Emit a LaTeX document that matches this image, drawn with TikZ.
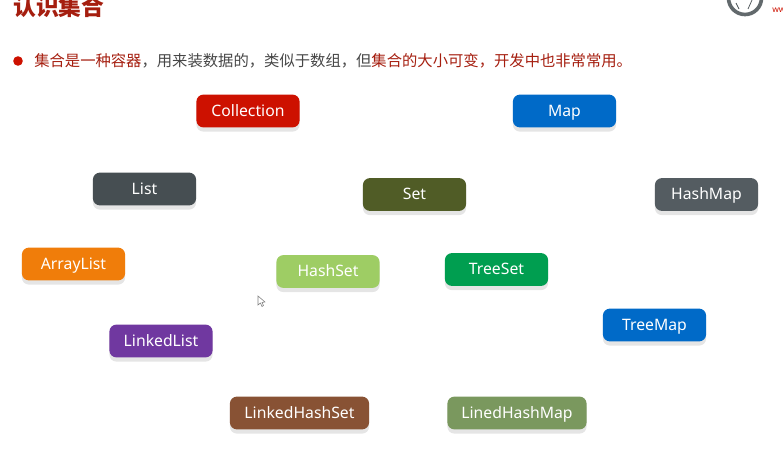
\documentclass[tikz,border=0pt]{standalone}
\usepackage{fontspec}
\setmainfont{Noto Sans}
\newfontfamily\cjkfont{Noto Sans CJK SC}
\usetikzlibrary{shadows}
\definecolor{JcRed}{RGB}{205,17,0}
\definecolor{JcDarkRed}{RGB}{165,30,15}
\definecolor{JcText}{RGB}{70,70,70}
\definecolor{JcBlue}{RGB}{0,106,200}
\definecolor{JcSlate}{RGB}{70,78,82}
\definecolor{JcOlive}{RGB}{80,92,38}
\definecolor{JcGrayBlue}{RGB}{84,92,97}
\definecolor{JcOrange}{RGB}{240,125,10}
\definecolor{JcLime}{RGB}{158,205,100}
\definecolor{JcGreen}{RGB}{0,158,80}
\definecolor{JcPurple}{RGB}{112,56,160}
\definecolor{JcBrown}{RGB}{136,82,52}
\definecolor{JcSage}{RGB}{122,152,94}
\tikzset{
  jc/tag/.style={
    rounded corners=5pt,
    fill=#1,
    text=white,
    align=center,
    minimum width=2.58cm,
    minimum height=0.82cm,
    inner sep=0pt,
    text height=9.2pt,
    text depth=1.4pt,
    font=\fontsize{11.2}{13}\selectfont,
    drop shadow={shadow xshift=0pt,shadow yshift=-3pt,fill=black!10,opacity=1}
  },
  jc/widetag/.style={
    jc/tag=#1,
    minimum width=3.48cm
  },
  jc/title/.style={font=\cjkfont\bfseries\fontsize{16.2}{18}\selectfont, text=JcDarkRed, inner sep=0pt},
  jc/line/.style={font=\cjkfont\fontsize{10.9}{12}\selectfont, text=JcText, inner sep=0pt}
}
\begin{document}
\begin{tikzpicture}[x=0.025cm,y=-0.025cm]
  \useasboundingbox (0,0) rectangle (783,453);
  \clip (0,0) rectangle (783,453);
  \node[jc/title,anchor=west] (heading) at (13,7) {认识集合};
  \node[circle,fill=JcRed,minimum size=0.24cm,inner sep=0pt] (bullet) at (18,61) {};
  \node[jc/line,anchor=west] (intro) at (34,61) {\textcolor{JcDarkRed}{集合是一种容器}，用来装数据的，类似于数组，但\textcolor{JcDarkRed}{集合的大小可变，开发中也非常常用。}};
  \node[jc/tag=JcRed] (collection) at (248,111) {Collection};
  \node[jc/tag=JcBlue] (map) at (564.5,111) {Map};
  \node[jc/tag=JcSlate] (list) at (144.5,189) {List};
  \node[jc/tag=JcOlive] (set) at (414.5,194.5) {Set};
  \node[jc/tag=JcGrayBlue] (hashmap) at (706.5,194.5) {HashMap};
  \node[jc/tag=JcOrange] (arraylist) at (73.5,264) {ArrayList};
  \node[jc/tag=JcLime] (hashset) at (328,271.5) {HashSet};
  \node[jc/tag=JcGreen] (treeset) at (496.5,269.5) {TreeSet};
  \node[jc/tag=JcBlue] (treemap) at (654.5,325) {TreeMap};
  \node[jc/tag=JcPurple] (linkedlist) at (161,341) {LinkedList};
  \node[jc/widetag=JcBrown] (linkedhashset) at (299.5,413) {LinkedHashSet};
  \node[jc/widetag=JcSage] (linedhashmap) at (517,413) {LinedHashMap};
  % logo and pointer
  \draw[line width=2.6pt,draw=JcSlate!85] (745,-2) circle (16.5);
  \draw[line width=0.5pt,draw=JcSlate] (736,3) -- (739,9) (752,0) -- (748,9);
  \node[font=\fontsize{6}{7}\selectfont,text=JcRed,anchor=west,inner sep=0pt] (www) at (772,10) {www};
  \draw[draw=gray,fill=white,line width=0.4pt] (258,296) -- (258,305) -- (260.5,303) -- (262,306.5) -- (263.5,305.5) -- (262,302.5) -- (265,302) -- cycle;
\end{tikzpicture}
\end{document}
